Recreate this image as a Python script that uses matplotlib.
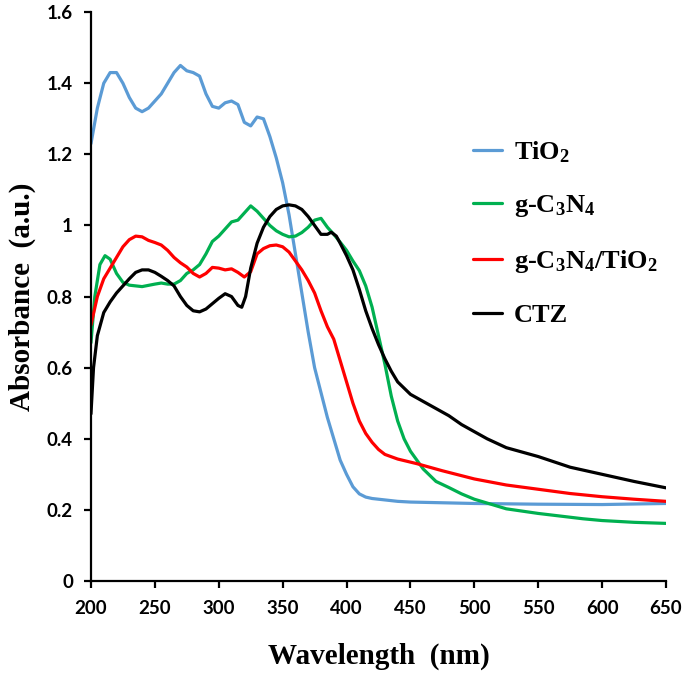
import matplotlib
matplotlib.use("Agg")
import matplotlib.pyplot as plt

plt.rcParams['mathtext.fontset'] = 'custom'
plt.rcParams['mathtext.rm'] = 'Liberation Serif:bold'
plt.rcParams['mathtext.it'] = 'Liberation Serif:bold'
plt.rcParams['mathtext.bf'] = 'Liberation Serif:bold'

# ---- data ----
wl_tio2 = [200, 205, 210, 215, 220, 225, 230, 235, 240, 245, 250, 255, 260, 265, 270, 275, 280, 285,
           290, 295, 300, 305, 310, 315, 320, 325, 330, 335, 340, 345, 350, 355, 360, 365, 370, 375,
           380, 385, 390, 395, 400, 405, 410, 415, 420, 430, 440, 450, 475, 500, 550, 600, 650]
ab_tio2 = [1.23, 1.33, 1.40, 1.43, 1.43, 1.40, 1.36, 1.33, 1.32, 1.33, 1.35, 1.37, 1.40, 1.43, 1.45,
           1.435, 1.43, 1.42, 1.37, 1.335, 1.33, 1.345, 1.35, 1.34, 1.29, 1.28, 1.305, 1.30, 1.25,
           1.19, 1.12, 1.03, 0.92, 0.81, 0.70, 0.60, 0.53, 0.46, 0.40, 0.34, 0.30, 0.265, 0.245,
           0.236, 0.232, 0.228, 0.224, 0.222, 0.220, 0.218, 0.216, 0.215, 0.218]

wl_g = [200, 203, 207, 211, 215, 220, 225, 230, 240, 250, 255, 260, 265, 270, 275, 280, 285, 290,
        295, 300, 305, 310, 315, 320, 325, 330, 335, 340, 345, 350, 355, 360, 365, 370, 375, 380,
        385, 390, 395, 400, 405, 410, 415, 420, 425, 430, 435, 440, 445, 450, 455, 460, 470, 480,
        490, 500, 525, 550, 585, 600, 625, 650]
ab_g = [0.67, 0.80, 0.89, 0.915, 0.905, 0.865, 0.84, 0.832, 0.828, 0.835, 0.838, 0.835, 0.835,
        0.845, 0.865, 0.875, 0.89, 0.92, 0.955, 0.97, 0.99, 1.01, 1.015, 1.035, 1.055, 1.04, 1.02,
        1.0, 0.985, 0.975, 0.968, 0.97, 0.98, 0.995, 1.015, 1.02, 0.995, 0.975, 0.953, 0.93, 0.90,
        0.873, 0.83, 0.77, 0.69, 0.61, 0.52, 0.45, 0.40, 0.365, 0.34, 0.315, 0.28, 0.263, 0.245,
        0.23, 0.203, 0.19, 0.175, 0.17, 0.165, 0.162]

wl_gt = [200, 205, 210, 215, 220, 225, 230, 235, 240, 245, 250, 255, 260, 265, 270, 275, 280, 285,
         290, 295, 300, 305, 310, 315, 320, 325, 330, 335, 340, 345, 350, 355, 360, 365, 370, 375,
         380, 385, 390, 395, 400, 405, 410, 415, 420, 425, 430, 440, 455, 475, 500, 525, 550, 575,
         600, 625, 650]
ab_gt = [0.72, 0.80, 0.85, 0.88, 0.91, 0.94, 0.96, 0.97, 0.968, 0.958, 0.952, 0.945, 0.93, 0.91,
         0.895, 0.883, 0.865, 0.855, 0.865, 0.882, 0.88, 0.875, 0.878, 0.868, 0.855, 0.87, 0.92,
         0.935, 0.943, 0.945, 0.94, 0.925, 0.90, 0.875, 0.845, 0.81, 0.76, 0.715, 0.68, 0.62, 0.56,
         0.50, 0.45, 0.415, 0.39, 0.37, 0.356, 0.343, 0.33, 0.31, 0.287, 0.27, 0.258, 0.246, 0.237,
         0.23, 0.224]

wl_ctz = [200, 202, 205, 210, 215, 220, 225, 230, 235, 240, 245, 250, 255, 260, 265, 270, 275, 280,
          285, 290, 295, 300, 305, 310, 315, 318, 321, 325, 330, 335, 340, 345, 350, 355, 360, 365,
          370, 375, 380, 385, 388, 392, 395, 400, 405, 410, 415, 420, 425, 430, 435, 440, 450, 460,
          470, 480, 490, 500, 510, 525, 550, 575, 600, 625, 650]
ab_ctz = [0.47, 0.60, 0.69, 0.755, 0.785, 0.81, 0.83, 0.85, 0.868, 0.875, 0.875, 0.868, 0.857,
          0.845, 0.83, 0.80, 0.775, 0.76, 0.757, 0.765, 0.78, 0.795, 0.808, 0.80, 0.775, 0.77, 0.80,
          0.88, 0.95, 0.995, 1.025, 1.045, 1.055, 1.058, 1.055, 1.045, 1.025, 1.0, 0.975, 0.975,
          0.981, 0.97, 0.95, 0.915, 0.875, 0.82, 0.76, 0.71, 0.665, 0.625, 0.59, 0.56, 0.525, 0.505,
          0.485, 0.465, 0.44, 0.42, 0.40, 0.375, 0.35, 0.32, 0.30, 0.28, 0.262]

labels = ['TiO$_2$', 'g-C$_3$N$_4$', 'g-C$_3$N$_4$/TiO$_2$', 'CTZ']
colors = ['#5B9BD5', '#00B050', '#FF0000', '#000000']
xticks = [200, 250, 300, 350, 400, 450, 500, 550, 600, 650]
yticks = [0, 0.2, 0.4, 0.6, 0.8, 1.0, 1.2, 1.4, 1.6]
ytick_labels = ['0', '0.2', '0.4', '0.6', '0.8', '1', '1.2', '1.4', '1.6']

fig = plt.figure(figsize=(6.85, 6.74), dpi=100)
ax = fig.add_axes([0.1328, 0.1380, 0.8395, 0.8440])

series = [(wl_tio2, ab_tio2), (wl_g, ab_g), (wl_gt, ab_gt), (wl_ctz, ab_ctz)]
for (x, y), lab, c in zip(series, labels, colors):
    ax.plot(x, y, color=c, lw=2.3, label=lab, solid_capstyle='round', solid_joinstyle='round')

ax.set_xlim(200, 650)
ax.set_ylim(0, 1.6)
ax.set_xticks(xticks)
ax.set_yticks(yticks)
ax.set_yticklabels(ytick_labels)
for s in ['top', 'right']:
    ax.spines[s].set_visible(False)
for s in ['left', 'bottom']:
    ax.spines[s].set_linewidth(1.6)
ax.tick_params(axis='both', direction='out', length=5, width=1.6, labelsize=13.5)
ax.tick_params(axis='x', pad=9)
ax.tick_params(axis='y', pad=8)
for t in ax.get_xticklabels() + ax.get_yticklabels():
    t.set_fontfamily('Lato')
    t.set_fontweight('bold')

ax.set_xlabel('Wavelength  (nm)', fontfamily='Liberation Serif', fontweight='bold', fontsize=21, labelpad=18)
ax.set_ylabel('Absorbance  (a.u.)', fontfamily='Liberation Serif', fontweight='bold', fontsize=21, labelpad=8)

leg = ax.legend(loc='upper left', bbox_to_anchor=(0.664, 0.777), frameon=False,
                prop={'family': 'Liberation Serif', 'weight': 'bold', 'size': 19},
                handlelength=1.1, handletextpad=0.45, labelspacing=1.09, borderpad=0,
                borderaxespad=0)

fig.savefig('out.png', dpi=100)
